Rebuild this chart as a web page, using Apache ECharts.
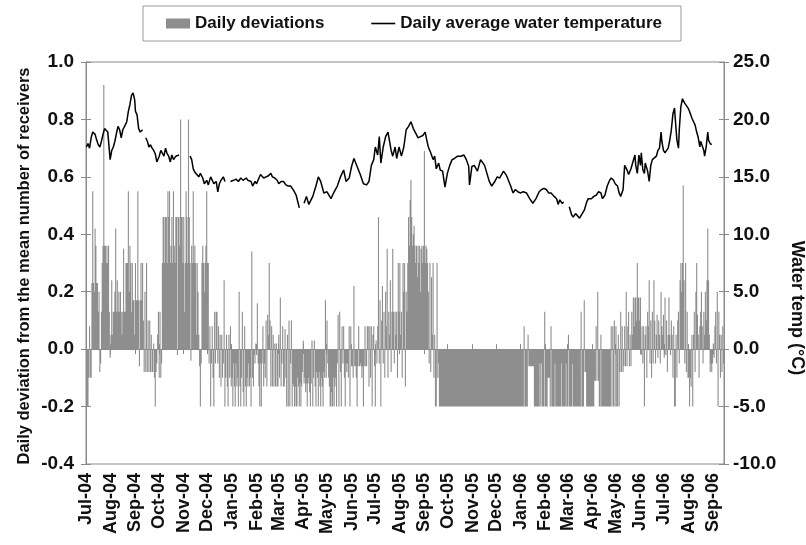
<!DOCTYPE html>
<html><head><meta charset="utf-8">
<script src="https://cdn.jsdelivr.net/npm/echarts@6/dist/echarts.min.js"></script>
<style>html,body{margin:0;padding:0;background:#fff}#c{width:806px;height:545px}</style>
</head><body><div id="c"></div>
<script>
// ---------- data ----------
const firstDay = '2004-07-01';
const dayCount = 806;
const monthLabels = ['Jul-04','Aug-04','Sep-04','Oct-04','Nov-04','Dec-04','Jan-05','Feb-05','Mar-05','Apr-05','May-05','Jun-05','Jul-05','Aug-05','Sep-05','Oct-05','Nov-05','Dec-05','Jan-06','Feb-06','Mar-06','Apr-06','May-06','Jun-06','Jul-06','Aug-06','Sep-06'];

// daily deviations (Jul-Dec 2004)
const dev2004 = [
-0.2,-0.2,-0.2,-0.1,0.08,-0.1,-0.1,0.23,0.55,0.23,
0.2,0.42,0.36,0.23,0.23,0.13,0.2,-0.08,-0.05,0.13,
0.3,0.36,0.92,0.36,0.36,0.3,0.36,0.3,0.36,0.13,
-0.03,0.05,0.24,0.05,0.13,0.13,0.2,0.42,0.13,0.24,
0.13,0.2,0.13,0.2,0.13,0.05,0.13,0.35,0.13,0.13,
0.3,0.3,0.3,0.55,0.2,0.36,0.3,0.13,0.3,0.17,
0.17,0.05,0.3,0.17,0.17,0.55,0.17,-0.06,0.17,0.3,
0.17,0.3,0.1,-0.08,0.2,-0.08,0.3,-0.08,0.1,-0.08,
0.1,-0.08,0.05,-0.08,-0.08,0.02,-0.1,-0.2,-0.08,-0.05,
0.05,0.13,-0.1,0.13,-0.1,-0.05,0.3,0.46,0.46,0.3,
0.46,0.46,0.3,0.55,0.46,0.55,0.3,0.36,0.46,0.3,
0.55,0.36,0.3,0.46,0.46,-0.02,0.46,0.46,0.36,0.8,
0.46,0.46,0.3,0.46,0.13,0.3,0.55,0.46,0.3,0.8,
0.46,0.3,-0.04,0.36,0.3,0.55,0.3,0.36,0.3,0.05,
0.3,0.2,0.05,-0.06,-0.2,-0.05,0.3,0.36,0.3,0.2,
0.3,0.36,0.55,0.3,0.3,-0.05,0.08,-0.2,-0.05,0.08,
-0.1,-0.2,0.13,-0.05,0.13,0.13,-0.05,0.08,-0.1,0.05,
-0.13,0.05,-0.1,-0.05,0.24,-0.2,-0.1,0.05,-0.13,-0.2,
0.05,-0.1,0.08,-0.13
];
// daily deviations (2005)
const dev2005 = [
-0.1,-0.2,-0.05,-0.13,-0.2,-0.05,-0.13,-0.1,-0.2,0.2,
-0.13,-0.2,-0.1,0.13,-0.15,-0.2,0.08,-0.13,-0.2,-0.1,
-0.13,-0.05,-0.13,-0.1,-0.2,0.34,-0.1,-0.13,-0.02,-0.05,
0.02,-0.02,0.16,-0.05,-0.13,-0.2,-0.05,-0.2,-0.05,0.08,
-0.13,-0.05,-0.1,0.1,-0.13,0.12,0.05,0.3,0.1,-0.13,
0.08,-0.13,0.05,-0.13,0.02,-0.13,0.02,-0.13,-0.13,0.05,
-0.1,0.18,-0.13,-0.05,0.08,-0.13,-0.13,0.07,-0.1,-0.2,
0.05,-0.2,0.1,-0.2,-0.05,0.1,-0.2,-0.12,-0.13,-0.2,
-0.13,-0.2,-0.2,-0.1,-0.13,-0.2,-0.12,-0.2,-0.13,-0.08,
0.03,-0.12,-0.1,-0.15,-0.12,-0.2,-0.12,-0.1,-0.15,-0.2,
-0.12,0.03,-0.2,-0.1,0.03,-0.13,-0.2,-0.08,-0.1,-0.2,
-0.08,-0.13,-0.2,-0.1,-0.13,-0.2,-0.08,-0.1,0.17,-0.1,
0.1,-0.05,-0.1,-0.13,-0.2,-0.2,-0.15,-0.2,-0.1,-0.2,
-0.13,-0.1,-0.2,-0.05,0.12,-0.2,0.13,-0.08,-0.2,0.08,
-0.05,0.08,-0.1,-0.2,-0.05,-0.08,-0.05,-0.1,0.08,-0.2,
0.08,-0.06,-0.06,-0.1,0.22,-0.06,-0.06,-0.1,-0.2,-0.06,
0.08,-0.06,-0.05,-0.06,-0.1,-0.06,-0.2,-0.06,0.08,-0.06,
-0.06,0.08,0.08,-0.13,0.08,-0.1,0.08,-0.2,0.05,0.08,
-0.06,-0.2,0.03,-0.05,0.08,0.46,-0.05,0.17,-0.2,0.1,
0.22,-0.05,0.13,-0.1,0.2,0.08,0.35,-0.1,0.13,0.05,
0.24,-0.08,0.13,0.35,0.13,-0.05,0.13,0.05,0.13,-0.1,
0.3,0.13,0.3,0.05,0.13,-0.1,0.3,0.2,0.3,-0.13,
0.2,0.13,0.3,0.46,0.36,0.52,0.59,0.46,0.36,0.4,
0.43,0.36,0.3,0.36,0.25,0.36,0.3,0.36,0.2,0.35,
0.36,0.3,0.36,0.69,0.3,0.36,0.35,0.3,0.2,-0.05,
0.3,-0.08,0.25,0.05,0.3,-0.1,0.05,-0.2,-0.2,0.3,
-0.1,-0.05,-0.2,-0.2,-0.2,-0.2,-0.2,-0.2,-0.2,-0.2,
-0.2,-0.2,-0.2,-0.2,-0.2,-0.2,-0.2,-0.2,-0.2,-0.2,
-0.2,-0.2,-0.2,-0.2,-0.2,-0.2,-0.2,-0.2,-0.2,-0.2,
-0.2,-0.2,-0.2,-0.2,-0.2,-0.2,-0.2,-0.2,-0.2,-0.2,
-0.2,-0.2,-0.2,-0.2,-0.2,-0.2,-0.2,-0.2,-0.2,-0.2,
-0.2,-0.2,-0.2,-0.2,-0.2,-0.2,-0.2,-0.2,-0.2,-0.2,
-0.2,-0.2,-0.2,-0.2,-0.2,-0.2,-0.2,-0.2,-0.2,-0.2,
-0.2,-0.2,-0.2,-0.2,-0.2,-0.2,-0.2,-0.2,-0.2,-0.2,
-0.2,-0.2,-0.2,-0.2,-0.2,-0.2,-0.2,-0.2,-0.2,-0.2,
-0.2,-0.2,-0.2,-0.2,-0.2,-0.2,-0.2,-0.2,-0.2,-0.2,
-0.2,-0.2,-0.2,-0.2,-0.2
];
// daily deviations (Jan-Sep 2006)
const dev2006 = [
-0.2,-0.2,-0.2,-0.2,0.08,-0.2,-0.2,-0.2,-0.2,0.05,
-0.06,-0.06,-0.06,-0.06,-0.06,-0.06,-0.06,
-0.2,-0.2,-0.2,-0.2,-0.2,-0.2,-0.2,
-0.05,-0.2,-0.05,-0.2,-0.2,-0.2,0.13,-0.2,-0.2,-0.2,
-0.1,-0.1,-0.1,-0.2,0.08,-0.2,-0.2,-0.2,-0.2,-0.05,
-0.2,-0.2,-0.2,-0.2,-0.2,-0.2,-0.2,-0.05,
-0.2,-0.2,-0.2,-0.2,-0.2,-0.05,-0.2,-0.2,0.05,
-0.2,-0.2,-0.2,-0.2,-0.05,
-0.2,-0.2,-0.2,-0.2,-0.2,-0.2,-0.2,-0.2,-0.2,-0.2,
0.13,-0.2,-0.2,-0.2,0.17,-0.08,-0.08,
-0.2,-0.2,-0.2,-0.2,-0.2,-0.2,-0.2,-0.2,-0.2,-0.2,
-0.11,-0.11,0.08,-0.11,0.2,-0.11,-0.2,-0.2,0.05,
-0.2,-0.2,-0.2,-0.2,-0.2,-0.2,-0.2,-0.2,-0.2,-0.2,-0.2,-0.2,
0.08,-0.2,0.08,-0.2,0.1,-0.2,0.08,-0.2,-0.2,0.05,-0.2,-0.08,0.13,-0.08,
0.08,-0.08,-0.06,0.08,-0.06,0.2,-0.06,0.08,0.13,-0.06,0.05,-0.06,0.13,0.05,0.18,0.08,
0.18,0.18,0.1,0.3,0.18,0.18,0.1,0.18,-0.02,0.08,-0.05,0.08,-0.2,0.05,0.08,-0.1,0.13,0.08,
0.24,-0.05,0.1,-0.1,0.13,-0.05,0.24,0.1,-0.05,0.05,0.12,-0.03,0.1,0.05,-0.05,0.2,0.08,
0.05,0.12,-0.03,0.18,-0.02,0.1,-0.08,0.05,0.18,0.05,-0.02,0.1,0.05,-0.1,0.08,-0.2,
-0.2,0.05,-0.1,0.1,0.13,-0.05,0.24,0.3,0.2,0.3,0.57,0.24,-0.05,0.3,-0.08,0.13,-0.1,
-0.1,-0.2,-0.1,-0.13,0.05,-0.2,0.05,0.13,-0.08,0.2,0.3,0.12,0.05,-0.1,0.08,0.13,0.2,
0.08,-0.05,0.13,0.05,0.2,0.1,0.24,0.42,0.24,0.05,-0.08,-0.05,-0.08,-0.05,0.02,-0.03,
0.08,0.13,-0.05,0.2,-0.2,0.13,0.05,-0.1,0.05,-0.08,0.08,-0.05
];

// daily average water temperature, read at these day numbers (day 0 = 1 Jul 2004); null = gap in record
const tempDay = [
0,2,4,6,8,11,13,15,17,19,21,23,25,27,30,32,34,36,38,40,42,44,46,49,51,53,55,57,59,61,62,64,66,68,71,73,
75,77,79,81,83,85,87,89,92,94,96,98,100,102,104,106,108,110,113,115,117,124,
131,133,135,137,139,142,144,147,149,152,154,157,159,161,164,166,168,170,173,175,179,
182,186,189,192,195,198,202,204,208,210,213,215,218,220,224,227,230,233,235,238,241,243,246,249,252,255,258,262,265,269,272,
275,278,281,286,290,293,296,300,304,309,313,317,321,325,328,332,335,338,342,346,350,354,357,360,363,365,368,370,372,375,378,381,383,385,387,390,392,395,398,401,404,407,410,413,416,419,422,425,428,430,432,435,438,440,442,445,447,450,453,456,459,462,465,469,473,477,480,483,484,487,490,494,498,500,503,506,509,512,516,519,522,
524,527,530,532,536,539,542,545,548,552,556,560,564,568,572,575,578,581,584,587,591,594,596,598,601,603,607,
610,613,615,618,620,623,625,629,632,634,638,641,644,647,650,652,655,658,661,663,666,668,671,673,675,678,680,683,685,688,690,693,694,696,698,700,701,703,705,706,709,711,713,715,717,720,722,724,726,727,729,731,733,735,737,739,741,743,744,746,748,749,751,753,754,756,758,760,762,765,767,769,771,773,775,776,778,780,781,783,785,786,788,790];
const tempValue = [
17.6,17.9,17.5,18.4,18.9,18.7,18.2,17.8,17.6,18.1,18.7,19.2,19.3,18.9,16.5,17.3,17.6,18.1,18.8,19.4,19.1,18.4,19.1,19.5,19.8,20.7,21.3,22.1,22.3,21.7,20.7,20.4,19.2,18.9,19.1,null,
18.4,18.1,17.6,17.8,17.5,17.3,17.0,16.3,16.8,17.3,17.2,16.8,17.5,17.0,16.8,16.3,16.9,16.5,16.8,16.8,16.9,null,
16.8,16.5,15.7,15.4,15.3,15.0,15.3,14.9,14.4,14.7,14.3,15.0,14.9,14.4,14.6,13.7,14.4,14.7,15.0,14.6,null,
14.6,14.7,14.8,14.6,14.9,14.7,14.9,14.7,14.6,14.2,14.6,14.4,14.9,15.2,14.9,15.0,15.1,15.3,15.0,14.9,14.7,14.4,14.6,14.6,14.3,14.2,14.2,13.8,13.4,12.3,null,
12.7,13.3,12.6,13.3,14.2,15.0,14.6,13.6,13.7,13.1,13.7,14.2,15.0,15.6,14.6,14.9,15.9,16.6,15.9,15.2,14.4,14.3,14.6,16.0,16.5,17.6,16.9,18.5,16.2,17.6,18.5,18.9,18.8,17.3,16.8,17.6,16.6,17.6,16.8,17.6,19.1,19.4,19.8,19.2,18.8,18.4,18.5,18.6,18.9,18.2,17.6,17.1,16.5,16.8,15.7,16.2,15.6,15.5,14.1,15.3,16.0,16.5,16.6,16.8,16.8,16.9,16.5,15.9,14.3,15.9,16.0,15.5,16.5,16.6,16.0,15.3,14.6,14.2,14.6,15.0,14.9,
15.0,15.5,15.2,14.9,14.2,13.6,13.9,13.7,13.6,13.7,13.6,13.1,12.7,13.1,13.7,13.9,14.0,13.9,13.6,13.6,13.3,13.1,12.6,13.0,12.7,12.8,null,
12.4,11.7,11.5,11.8,11.7,11.4,11.5,12.1,12.8,13.1,13.1,13.3,13.4,13.7,13.6,13.1,13.4,14.2,14.7,14.9,14.7,14.4,14.2,13.6,13.3,13.9,16.0,15.6,15.2,15.7,16.2,16.9,16.0,15.3,16.9,16.0,17.1,15.6,15.3,16.2,15.5,14.6,16.0,16.5,16.6,16.8,17.3,17.5,18.9,18.1,17.3,17.1,17.3,17.5,18.2,19.1,20.5,21.0,20.0,18.2,17.5,19.1,21.1,21.8,21.7,21.4,21.3,21.0,20.7,20.1,19.8,19.5,18.9,18.4,17.6,18.1,18.0,17.3,16.8,17.6,18.9,18.2,17.9,17.8];

// ---------- build ----------
const FONT = '"Liberation Sans", Arial, Helvetica, sans-serif';
const AX = '#8a8a8a';
const dates = [];
const monthIdxOfDay = [];
{
  const p = firstDay.split('-').map(Number);
  const t0 = Date.UTC(p[0], p[1]-1, p[2]);
  for (let i = 0; i < dayCount; i++) {
    const d = new Date(t0 + i*86400000);
    const y = d.getUTCFullYear(), m = d.getUTCMonth(), dd = d.getUTCDate();
    dates.push(y + '-' + String(m+1).padStart(2,'0') + '-' + String(dd).padStart(2,'0'));
    monthIdxOfDay.push(dd === 1 ? (y-2004)*12 + m - 6 : -1);
  }
}
const isMonthStart = (i) => monthIdxOfDay[i] >= 0;
const devAll = dev2004.concat(dev2005, dev2006);
const tempData = tempDay.map((d, i) => [dates[d], tempValue[i] === null ? '-' : tempValue[i]]);
const fmt1 = v => (Math.abs(v) < 1e-9 ? 0 : v).toFixed(1);

const chart = echarts.init(document.getElementById('c'), null, {renderer: 'canvas'});
const graphics = [
  {type:'text', x:24, y:266, rotation: Math.PI/2,
   style:{text:'Daily deviation from the mean number of receivers', font:'bold 16.5px ' + FONT, fill:'#111', textAlign:'center', textVerticalAlign:'middle', align:'center', verticalAlign:'middle'}},
  {type:'text', x:797, y:308, rotation: -Math.PI/2,
   style:{text:'Water temp (\u00B0C)', font:'bold 18px ' + FONT, fill:'#111', textAlign:'center', textVerticalAlign:'middle', align:'center', verticalAlign:'middle'}}
];
if (devAll.length !== dayCount || tempDay.length !== tempValue.length) {
  graphics.push({type:'text', x:300, y:100, style:{text:'LEN ' + devAll.length + ' ' + tempDay.length + '/' + tempValue.length, font:'bold 30px sans-serif', fill:'red'}});
}

const yBase = {type:'value', splitLine:{show:false}};
chart.setOption({
  animation: false,
  backgroundColor: '#fff',
  textStyle: {fontFamily: FONT},
  grid: {left: 86, right: 82, top: 62, bottom: 81, show: true, borderColor: AX, borderWidth: 1, backgroundColor: 'transparent'},
  legend: {
    left: 143, top: 6,
    padding: [9, 19, 9, 23],
    borderColor: '#9a9a9a', borderWidth: 1,
    itemGap: 46, itemWidth: 24, itemHeight: 10,
    textStyle: {fontFamily: FONT, fontSize: 17, fontWeight: 'bold', color: '#111'},
    data: [
      {name: 'Daily deviations', icon: 'rect'},
      {name: 'Daily average water temperature', itemStyle: {opacity: 0}, lineStyle: {color: '#000', width: 1.6}}
    ]
  },
  graphic: graphics,
  xAxis: [
    {type:'category', data: dates, position:'bottom', boundaryGap: true,
     axisLine:{show:false}, axisTick:{show:false}, splitLine:{show:false},
     axisLabel:{interval: (i) => isMonthStart(i), rotate: 90, margin: 9, fontSize: 18, fontWeight: 'bold', color: '#111', fontFamily: FONT,
       formatter: (v, i) => monthLabels[monthIdxOfDay[i]] || ''}},
    {type:'category', data: dates, position:'top', boundaryGap: true,
     axisLine:{show:true, onZero:true, onZeroAxisIndex:0, lineStyle:{color: AX, width: 1.2}},
     axisTick:{show:true, interval: (i) => isMonthStart(i), length: 5, lineStyle:{color: AX}},
     axisLabel:{show:false}, splitLine:{show:false}},
    {type:'category', data: dates, position:'top', boundaryGap: true,
     axisLine:{show:false, onZero:true, onZeroAxisIndex:0},
     axisTick:{show:true, inside:true, interval: (i) => isMonthStart(i), length: 5, lineStyle:{color: AX}},
     axisLabel:{show:false}, splitLine:{show:false}}
  ],
  yAxis: [
    Object.assign({}, yBase, {position:'left', min:-0.4, max:1.0, interval:0.2,
      axisLine:{show:true, lineStyle:{color: AX}}, axisTick:{show:true, length:5, lineStyle:{color: AX}},
      axisLabel:{formatter: fmt1, fontSize: 19, fontWeight:'bold', color:'#111', margin: 12, fontFamily: FONT}}),
    Object.assign({}, yBase, {position:'right', min:-10, max:25, interval:5,
      axisLine:{show:true, lineStyle:{color: AX}}, axisTick:{show:true, length:5, lineStyle:{color: AX}},
      axisLabel:{formatter: fmt1, fontSize: 19, fontWeight:'bold', color:'#111', margin: 9, fontFamily: FONT}}),
    Object.assign({}, yBase, {position:'left', min:-0.4, max:1.0, interval:0.2,
      axisLine:{show:false}, axisTick:{show:true, inside:true, length:5, lineStyle:{color: AX}}, axisLabel:{show:false}}),
    Object.assign({}, yBase, {position:'right', min:-10, max:25, interval:5,
      axisLine:{show:false}, axisTick:{show:true, inside:true, length:5, lineStyle:{color: AX}}, axisLabel:{show:false}})
  ],
  series: [
    {name:'Daily deviations', type:'bar', xAxisIndex:0, yAxisIndex:0, data: devAll,
     large: true, largeThreshold: 300, barWidth: 1.1, itemStyle:{color:'#8e8e8e'}, silent:true},
    {name:'Daily average water temperature', type:'line', xAxisIndex:0, yAxisIndex:1, data: tempData,
     symbol:'none', showSymbol:false, connectNulls:false, lineStyle:{color:'#000', width:1.5}, itemStyle:{color:'#000'}, silent:true, z:5}
  ]
});
</script>
</body></html>
